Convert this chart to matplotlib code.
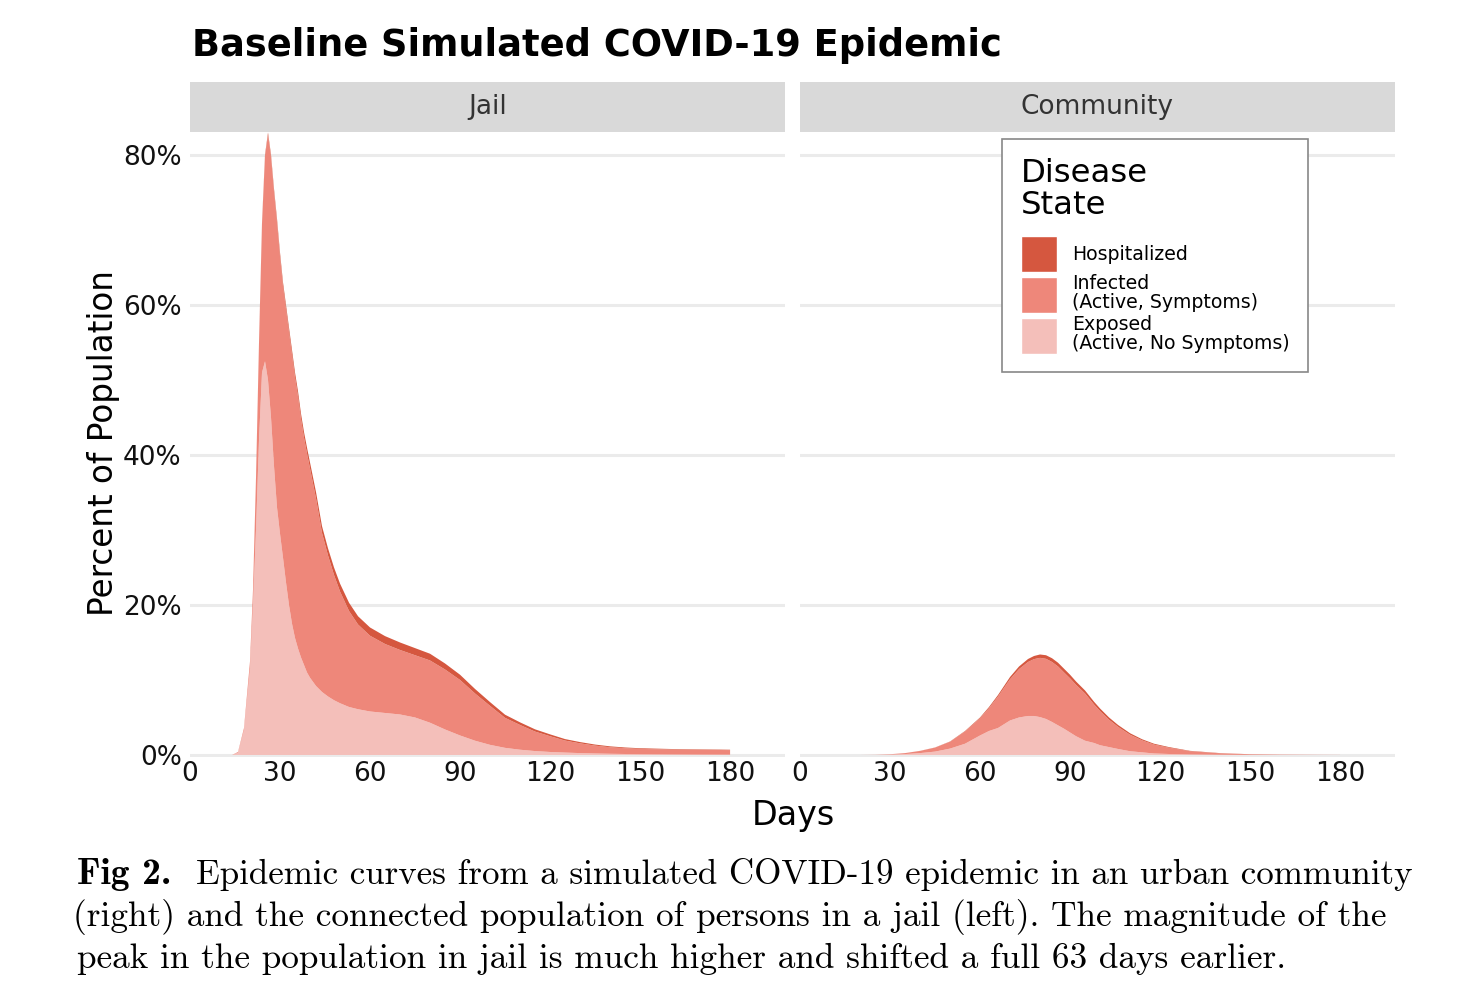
import matplotlib
matplotlib.use("Agg")
import matplotlib.pyplot as plt
from matplotlib.patches import Patch

# ---------------- data (percent of population) ----------------
jail_days = [0, 14, 16, 18, 20, 21, 22, 23, 24, 25, 26, 27, 28, 29, 30, 31, 32, 33, 34, 35,
             36, 37, 38, 39, 40, 42, 44, 46, 48, 50, 53, 56, 60, 65, 70, 75, 80, 85, 90, 95,
             100, 105, 110, 115, 120, 125, 130, 135, 140, 145, 150, 160, 170, 180]
jail_exposed = [0, 0, 0.3, 3.3, 11.5, 20, 30, 42, 51, 52.5, 50, 45, 38.5, 33, 29.5, 26.3, 23, 20, 17.5, 15.6,
                14.2, 13, 12, 11, 10.3, 9.2, 8.4, 7.8, 7.3, 6.9, 6.4, 6.1, 5.8, 5.6, 5.4, 5.0, 4.3, 3.4, 2.6, 1.9,
                1.35, 0.95, 0.7, 0.52, 0.4, 0.32, 0.25, 0.2, 0.16, 0.13, 0.1, 0.07, 0.05, 0.04]
jail_infected = [0, 0, 0.1, 0.3, 1.0, 2.0, 6.9, 12.9, 19.8, 27.3, 32.7, 34.7, 36.6, 38.05, 37.0, 36.2, 36.45, 36.4, 35.9, 34.75,
                 33.6, 31.8, 30.3, 29.2, 27.9, 25.0, 21.2, 18.8, 16.7, 14.9, 12.8, 11.3, 10.1, 9.2, 8.6, 8.3, 8.3, 8.0, 7.4, 6.3,
                 5.2, 4.0, 3.3, 2.6, 2.1, 1.6, 1.3, 1.05, 0.87, 0.77, 0.71, 0.66, 0.64, 0.61]
jail_hosp = [0, 0, 0, 0, 0, 0.05, 0.1, 0.15, 0.2, 0.25, 0.3, 0.35, 0.4, 0.45, 0.5, 0.52, 0.55, 0.58, 0.6, 0.65,
             0.68, 0.7, 0.75, 0.77, 0.8, 0.85, 0.9, 0.95, 1.0, 1.05, 1.1, 1.1, 1.1, 1.05, 1.0, 0.95, 0.9, 0.8, 0.7, 0.6,
             0.5, 0.42, 0.35, 0.3, 0.25, 0.2, 0.17, 0.14, 0.12, 0.1, 0.09, 0.07, 0.06, 0.05]

comm_days = [0, 20, 25, 30, 35, 40, 45, 50, 55, 60, 63, 66, 70, 73, 76, 78, 80, 82, 84, 86,
             88, 90, 92, 95, 98, 100, 103, 106, 110, 114, 118, 123, 130, 140, 150, 160, 172, 180]
comm_exposed = [0, 0, 0.01, 0.05, 0.12, 0.25, 0.45, 0.85, 1.5, 2.6, 3.2, 3.6, 4.6, 5.0, 5.2, 5.2, 5.05, 4.8, 4.4, 3.95,
                3.5, 3.0, 2.5, 1.9, 1.6, 1.3, 1.05, 0.8, 0.5, 0.35, 0.2, 0.13, 0.07, 0.03, 0.01, 0.005, 0, 0]
comm_infected = [0, 0, 0.01, 0.05, 0.13, 0.29, 0.53, 0.92, 1.64, 2.3, 3.05, 4.2, 5.5, 6.45, 7.2, 7.58, 7.9, 8.02, 8.0, 7.85,
                 7.5, 7.22, 6.85, 6.3, 5.13, 4.55, 3.65, 2.95, 2.2, 1.6, 1.18, 0.83, 0.43, 0.19, 0.08, 0.045, 0.02, 0.01]
comm_hosp = [0, 0, 0, 0, 0, 0.01, 0.02, 0.03, 0.06, 0.1, 0.15, 0.2, 0.3, 0.35, 0.4, 0.42, 0.45, 0.48, 0.5, 0.5,
             0.5, 0.48, 0.45, 0.4, 0.37, 0.35, 0.3, 0.25, 0.2, 0.15, 0.12, 0.09, 0.05, 0.03, 0.01, 0, 0, 0]

panel_names = ["Jail", "Community"]
legend_labels = ["Hospitalized", "Infected\n(Active, Symptoms)", "Exposed\n(Active, No Symptoms)"]
x_ticks = [0, 30, 60, 90, 120, 150, 180]
y_ticks = [0, 20, 40, 60, 80]
y_ticklabels = ["0%", "20%", "40%", "60%", "80%"]

col_hosp = "#D5573F"
col_inf = "#EE877A"
col_exp = "#F4BFBA"
txt_col = "#333333"

W, H = 1476, 1000


def box(x0, y0, x1, y1):
    # pixel box (top-left origin) -> figure fraction rect
    return [x0 / W, 1 - y1 / H, (x1 - x0) / W, (y1 - y0) / H]


fig = plt.figure(figsize=(W / 100, H / 100), dpi=100)
fig.patch.set_facecolor("white")

ax_j = fig.add_axes(box(190, 132, 785, 757))
ax_c = fig.add_axes(box(800, 132, 1395, 757))

series = [(ax_j, jail_days, jail_exposed, jail_infected, jail_hosp),
          (ax_c, comm_days, comm_exposed, comm_infected, comm_hosp)]

for ax, d, e, i, h in series:
    ax.stackplot(d, e, i, h, colors=[col_exp, col_inf, col_hosp], linewidth=0)
    ax.set_xlim(0, 198.3)
    ax.set_ylim(-0.27, 83.07)
    ax.set_xticks(x_ticks)
    ax.set_yticks(y_ticks)
    ax.grid(axis="y", color="#EBEBEB", linewidth=2.2)
    ax.grid(axis="x", visible=False)
    ax.set_axisbelow(True)
    for s in ax.spines.values():
        s.set_visible(False)
    ax.tick_params(length=0, labelsize=19, colors=txt_col, pad=3)
    ax.tick_params(axis="x", labelcolor="#111111")

ax_j.set_yticklabels(y_ticklabels, color="#111111")
ax_j.tick_params(axis="y", pad=6)
ax_c.set_yticklabels([])

# facet strips
for (x0, x1), name in zip([(190, 785), (800, 1395)], panel_names):
    st = fig.add_axes(box(x0, 82, x1, 132))
    st.set_facecolor("#D9D9D9")
    st.set_xticks([])
    st.set_yticks([])
    for s in st.spines.values():
        s.set_visible(False)
    st.text(0.5, 0.5, name, ha="center", va="center", fontsize=19, color=txt_col,
            transform=st.transAxes)

# titles / labels
fig.text(192 / W, 1 - 46 / H, "Baseline Simulated COVID-19 Epidemic", fontsize=26.5,
         fontweight="bold", ha="left", va="center")
fig.text(104 / W, 1 - 443 / H, "Percent of Population", rotation=90, fontsize=23.5,
         ha="center", va="center")
fig.text(793 / W, 1 - 815 / H, "Days", fontsize=24, ha="center", va="center")

# legend
handles = [Patch(facecolor=c, edgecolor="white", linewidth=1) for c in [col_hosp, col_inf, col_exp]]
leg = ax_c.legend(handles, legend_labels, title="Disease\nState", loc="upper left",
                  bbox_to_anchor=(1002 / W, 1 - 139 / H), bbox_transform=fig.transFigure,
                  borderaxespad=0, fontsize=13.6, title_fontsize=23.3, handlelength=1.9,
                  handleheight=2.55, handletextpad=0.8, labelspacing=0.1, borderpad=1.0,
                  fancybox=False, framealpha=1, edgecolor="#888888", alignment="left")
leg.get_frame().set_linewidth(1.2)
for t in leg.get_texts():
    t.set_linespacing(1.0)
leg.get_title().set_linespacing(1.05)
leg._legend_box.sep = 11  # extra gap between title and keys (points)

# caption
cap_kw = dict(fontsize=25.4, family="cmr10", ha="left", va="baseline")
fig.text(77 / W, 1 - 884 / H, "Fig 2.", fontsize=27, family="cmb10", ha="left", va="baseline")
fig.text(196 / W, 1 - 884 / H,
         "Epidemic curves from a simulated COVID-19 epidemic in an urban community",
         fontsize=25.2, family="cmr10", ha="left", va="baseline")
fig.text(73 / W, 1 - 926 / H,
         "(right) and the connected population of persons in a jail (left). The magnitude of the", **cap_kw)
fig.text(77 / W, 1 - 968 / H,
         "peak in the population in jail is much higher and shifted a full 63 days earlier.", **cap_kw)

fig.savefig("out.png", dpi=100)
